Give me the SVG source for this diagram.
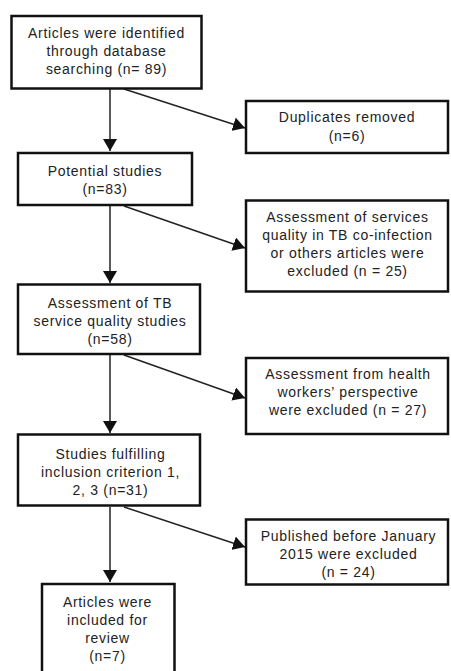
<svg xmlns="http://www.w3.org/2000/svg" width="451" height="671" viewBox="0 0 451 671">
<style>
.box{fill:#fff;stroke:#111;stroke-width:2.5}
.lbl{font-family:"Liberation Sans",Arial,sans-serif;font-size:14px;letter-spacing:0.7px;fill:#222;text-anchor:middle}
.con{stroke:#222;stroke-width:1.5;fill:none;marker-end:url(#ah)}
</style>
<defs>
<marker id="ah" viewBox="0 0 12 14" refX="12" refY="7" markerWidth="12" markerHeight="14" orient="auto" markerUnits="userSpaceOnUse">
<path d="M0,0 L12,7 L0,14 z" fill="#111"/>
</marker>
</defs>
<rect width="451" height="671" fill="#fff"/>
<g id="connectors">
<line class="con" x1="110" y1="89" x2="110" y2="151"/>
<line class="con" x1="124" y1="89" x2="245" y2="128"/>
<line class="con" x1="110" y1="206" x2="110" y2="283"/>
<line class="con" x1="124" y1="206" x2="245" y2="248"/>
<line class="con" x1="110" y1="355" x2="110" y2="433"/>
<line class="con" x1="124" y1="355" x2="245" y2="398"/>
<line class="con" x1="110" y1="507" x2="110" y2="582"/>
<line class="con" x1="124" y1="507" x2="245" y2="547"/>
</g>
<g id="n1">
<rect class="box" x="11.5" y="16" width="190" height="72.5"/>
<text class="lbl" x="106.5" y="38">Articles were identified</text>
<text class="lbl" x="106.5" y="56">through database</text>
<text class="lbl" x="106.5" y="74">searching (n= 89)</text>
</g>
<g id="n2">
<rect class="box" x="246" y="101" width="202" height="52"/>
<text class="lbl" x="347" y="122">Duplicates removed</text>
<text class="lbl" x="347" y="141">(n=6)</text>
</g>
<g id="n3">
<rect class="box" x="18" y="153" width="174" height="52"/>
<text class="lbl" x="105" y="176">Potential studies</text>
<text class="lbl" x="105" y="194">(n=83)</text>
</g>
<g id="n4">
<rect class="box" x="246" y="200.5" width="202" height="91"/>
<text class="lbl" x="347.5" y="222">Assessment of services</text>
<text class="lbl" x="347.5" y="240">quality in TB co-infection</text>
<text class="lbl" x="347.5" y="258">or others articles were</text>
<text class="lbl" x="347.5" y="276">excluded (n = 25)</text>
</g>
<g id="n5">
<rect class="box" x="18" y="284.5" width="182" height="69.5"/>
<text class="lbl" x="110" y="308">Assessment of TB</text>
<text class="lbl" x="110" y="326">service quality studies</text>
<text class="lbl" x="110" y="344">(n=58)</text>
</g>
<g id="n6">
<rect class="box" x="246" y="358" width="202" height="76"/>
<text class="lbl" x="348" y="379">Assessment from health</text>
<text class="lbl" x="348" y="397">workers’ perspective</text>
<text class="lbl" x="348" y="415">were excluded (n = 27)</text>
</g>
<g id="n7">
<rect class="box" x="18" y="434.5" width="182" height="71"/>
<text class="lbl" x="110.5" y="459">Studies fulfilling</text>
<text class="lbl" x="110.5" y="477">inclusion criterion 1,</text>
<text class="lbl" x="110.5" y="495">2, 3 (n=31)</text>
</g>
<g id="n8">
<rect class="box" x="246" y="519.5" width="202" height="65"/>
<text class="lbl" x="348.5" y="541">Published before January</text>
<text class="lbl" x="348.5" y="559">2015 were excluded</text>
<text class="lbl" x="348.5" y="577">(n = 24)</text>
</g>
<g id="n9">
<rect class="box" x="42" y="584" width="132.5" height="110"/>
<text class="lbl" x="107.5" y="607">Articles were</text>
<text class="lbl" x="107.5" y="625">included for</text>
<text class="lbl" x="107.5" y="643">review</text>
<text class="lbl" x="107.5" y="661">(n=7)</text>
</g>
</svg>
